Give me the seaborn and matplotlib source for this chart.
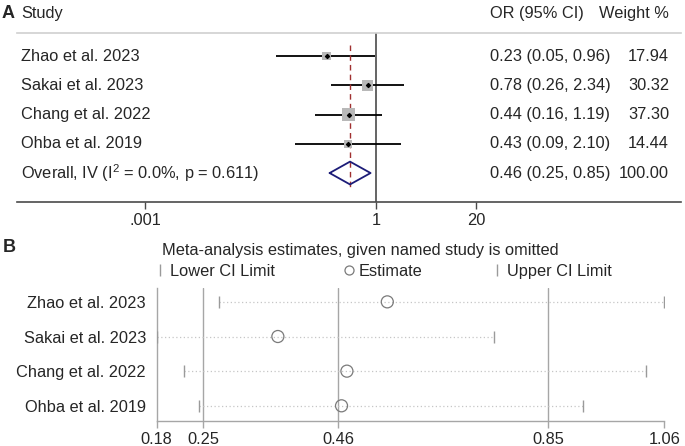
import numpy as np
import pandas as pd
import matplotlib
matplotlib.use('Agg')
import matplotlib.pyplot as plt
from matplotlib.lines import Line2D
from matplotlib.ticker import NullLocator
import seaborn as sns

# Panel A: forest plot of individual studies
studies = ['Zhao et al. 2023', 'Sakai et al. 2023', 'Chang et al. 2022', 'Ohba et al. 2019']
odds = [0.23, 0.78, 0.44, 0.43]
ci_low = [0.05, 0.26, 0.16, 0.09]
ci_high = [0.96, 2.34, 1.19, 2.10]
weights = [17.94, 30.32, 37.30, 14.44]
overall_or = 0.46
overall_low = 0.25
overall_high = 0.85
overall_weight = 100.00
overall_label = 'Overall, IV (I$^{2}$ = 0.0%, p = 0.611)'
a_ticks = [0.001, 1, 20]
a_ticklabels = ['.001', '1', '20']

# Panel B: leave-one-out estimates
loo_est = [0.551, 0.366, 0.476, 0.466]
loo_low = [0.275, 0.18, 0.221, 0.243]
loo_high = [1.06, 0.750, 1.027, 0.913]
b_ticks = [0.18, 0.25, 0.46, 0.85, 1.06]
b_ticklabels = ['0.18', '0.25', '0.46', '0.85', '1.06']
b_title = 'Meta-analysis estimates, given named study is omitted'

sns.set_theme(style='white')
plt.rcParams['font.family'] = ['Liberation Sans', 'DejaVu Sans']
plt.rcParams['mathtext.fontset'] = 'custom'
plt.rcParams['mathtext.rm'] = 'Liberation Sans'
plt.rcParams['mathtext.it'] = 'Liberation Sans'
FS = 11.8

W, H = 685, 446
fig = plt.figure(figsize=(W / 100, H / 100), dpi=100)
axA = fig.add_axes([17 / W, 1 - 201.7 / H, 664 / W, 168.4 / H])
axB = fig.add_axes([156.7 / W, 1 - 420.7 / H, 507.6 / W, 132.7 / H])

# ---- panel A
dfa = pd.DataFrame({'study': studies, 'or': odds, 'lo': ci_low, 'hi': ci_high,
                    'w': weights, 'row': np.arange(1, len(studies) + 1)})
axA.set_xscale('log')
axA.set_xlim(10 ** -4.662, 10 ** 3.961)
axA.set_ylim(5.98, 0.224)

axA.axvline(1, color='#4a4a4a', lw=1.2, zorder=1)
axA.hlines(dfa['row'], dfa['lo'], dfa['hi'], color='black', lw=1.3, zorder=2)
sns.scatterplot(data=dfa, x='or', y='row', size='w',
                sizes=(min(weights) * 2.2, max(weights) * 2.2),
                marker='s', color='#b8b8b8', edgecolor='none', legend=False,
                ax=axA, zorder=3)
axA.scatter(dfa['or'], dfa['row'], marker='D', s=4, color='black', zorder=4)

orow = len(studies) + 1
hd = 0.39
axA.plot([overall_low, overall_or, overall_high, overall_or, overall_low],
         [orow, orow - hd, orow, orow + hd, orow], color='#1c1c78', lw=1.3, zorder=3)
axA.vlines(overall_or, 0.62, 5.48, color='#a03030', ls=(0, (4, 3)), lw=1, zorder=2)

for side in ['left', 'right']:
    axA.spines[side].set_visible(False)
axA.spines['top'].set_color('#cfcfcf')
axA.spines['top'].set_linewidth(1.2)
axA.spines['bottom'].set_color('#4a4a4a')
axA.spines['bottom'].set_linewidth(1.2)
axA.set_xticks(a_ticks, a_ticklabels)
axA.xaxis.set_minor_locator(NullLocator())
axA.set_yticks([])
axA.tick_params(axis='x', length=5, width=1, color='#4a4a4a', labelsize=FS,
                pad=3, bottom=True, direction='out')
axA.set_xlabel('')
axA.set_ylabel('')

tr = axA.get_yaxis_transform()
x_name, x_or, x_w = 0.006, 0.7123, 0.982
head_y = -0.436
axA.text(x_name, head_y, 'Study', transform=tr, ha='left', va='center', fontsize=FS)
axA.text(x_or, head_y, 'OR (95% CI)', transform=tr, ha='left', va='center', fontsize=FS)
axA.text(x_w, head_y, 'Weight %', transform=tr, ha='right', va='center', fontsize=FS)
for _, r in dfa.iterrows():
    axA.text(x_name, r['row'], r['study'], transform=tr, ha='left', va='center', fontsize=FS)
    axA.text(x_or, r['row'], f"{r['or']:.2f} ({r['lo']:.2f}, {r['hi']:.2f})",
             transform=tr, ha='left', va='center', fontsize=FS)
    axA.text(x_w, r['row'], f"{r['w']:.2f}", transform=tr, ha='right', va='center', fontsize=FS)
axA.text(x_name, orow, overall_label, transform=tr, ha='left', va='center', fontsize=FS)
axA.text(x_or, orow, f"{overall_or:.2f} ({overall_low:.2f}, {overall_high:.2f})",
         transform=tr, ha='left', va='center', fontsize=FS)
axA.text(x_w, orow, f"{overall_weight:.2f}", transform=tr, ha='right', va='center', fontsize=FS)

# ---- panel B (axis positions of the labelled ticks, in pixels along the axis)
b_tick_pos = [0, 46.6, 181.6, 391.6, 507.6]
fwd = lambda v: np.interp(v, b_ticks, b_tick_pos)
inv = lambda p: np.interp(p, b_tick_pos, b_ticks)
axB.set_xscale('function', functions=(fwd, inv))
axB.set_xlim(b_ticks[0], b_ticks[-1])
rowsB = np.arange(1, len(studies) + 1)
axB.set_ylim(4.43, 0.6)

grey = '#a6a6a6'
for v in b_ticks[1:4]:
    axB.axvline(v, color=grey, lw=1, zorder=1)
axB.hlines(rowsB, loo_low, loo_high, color='#c6c6c6', ls=(0, (1, 2)), lw=0.9, zorder=2)
axB.plot(loo_low, rowsB, ls='none', marker='|', ms=9, mew=1, color='#9a9a9a', zorder=3)
axB.plot(loo_high, rowsB, ls='none', marker='|', ms=9, mew=1, color='#9a9a9a', zorder=3)
dfb = pd.DataFrame({'est': loo_est, 'row': rowsB})
sns.scatterplot(data=dfb, x='est', y='row', marker='o', s=75, color='white',
                edgecolor='#7a7a7a', linewidth=0.9, legend=False, ax=axB, zorder=4)
axB.collections[-1].set_facecolor('none')

for side in ['top', 'right']:
    axB.spines[side].set_visible(False)
for side in ['left', 'bottom']:
    axB.spines[side].set_color(grey)
    axB.spines[side].set_linewidth(1)
axB.set_xticks(b_ticks, b_ticklabels)
axB.xaxis.set_minor_locator(NullLocator())
axB.set_yticks(rowsB, studies)
axB.tick_params(axis='x', length=5, width=1, color=grey, labelsize=FS, pad=3,
                bottom=True, direction='out')
axB.tick_params(axis='y', length=0, labelsize=FS, pad=7.7)
axB.set_xlabel('')
axB.set_ylabel('')

fig.text(162 / W, 1 - 250 / H, b_title, ha='left', va='center', fontsize=FS)
handles = [Line2D([], [], ls='none', marker='|', ms=9, mew=1, color='#9a9a9a'),
           Line2D([], [], ls='none', marker='o', ms=6.5, mfc='none', mec='#7a7a7a', mew=0.9),
           Line2D([], [], ls='none', marker='|', ms=9, mew=1, color='#9a9a9a')]
fig.legend(handles, ['Lower CI Limit', 'Estimate', 'Upper CI Limit'],
           loc='center left', bbox_to_anchor=(155 / W, 1 - 271.7 / H), ncol=3,
           frameon=False, handlelength=0.6, handletextpad=0.3, columnspacing=4.25,
           borderpad=0, borderaxespad=0, fontsize=FS)

fig.text(2 / W, 1 - 14 / H, 'A', ha='left', va='center', fontsize=13, fontweight='bold')
fig.text(3 / W, 1 - 247 / H, 'B', ha='left', va='center', fontsize=13, fontweight='bold')

fig.savefig('out.png', dpi=100)
